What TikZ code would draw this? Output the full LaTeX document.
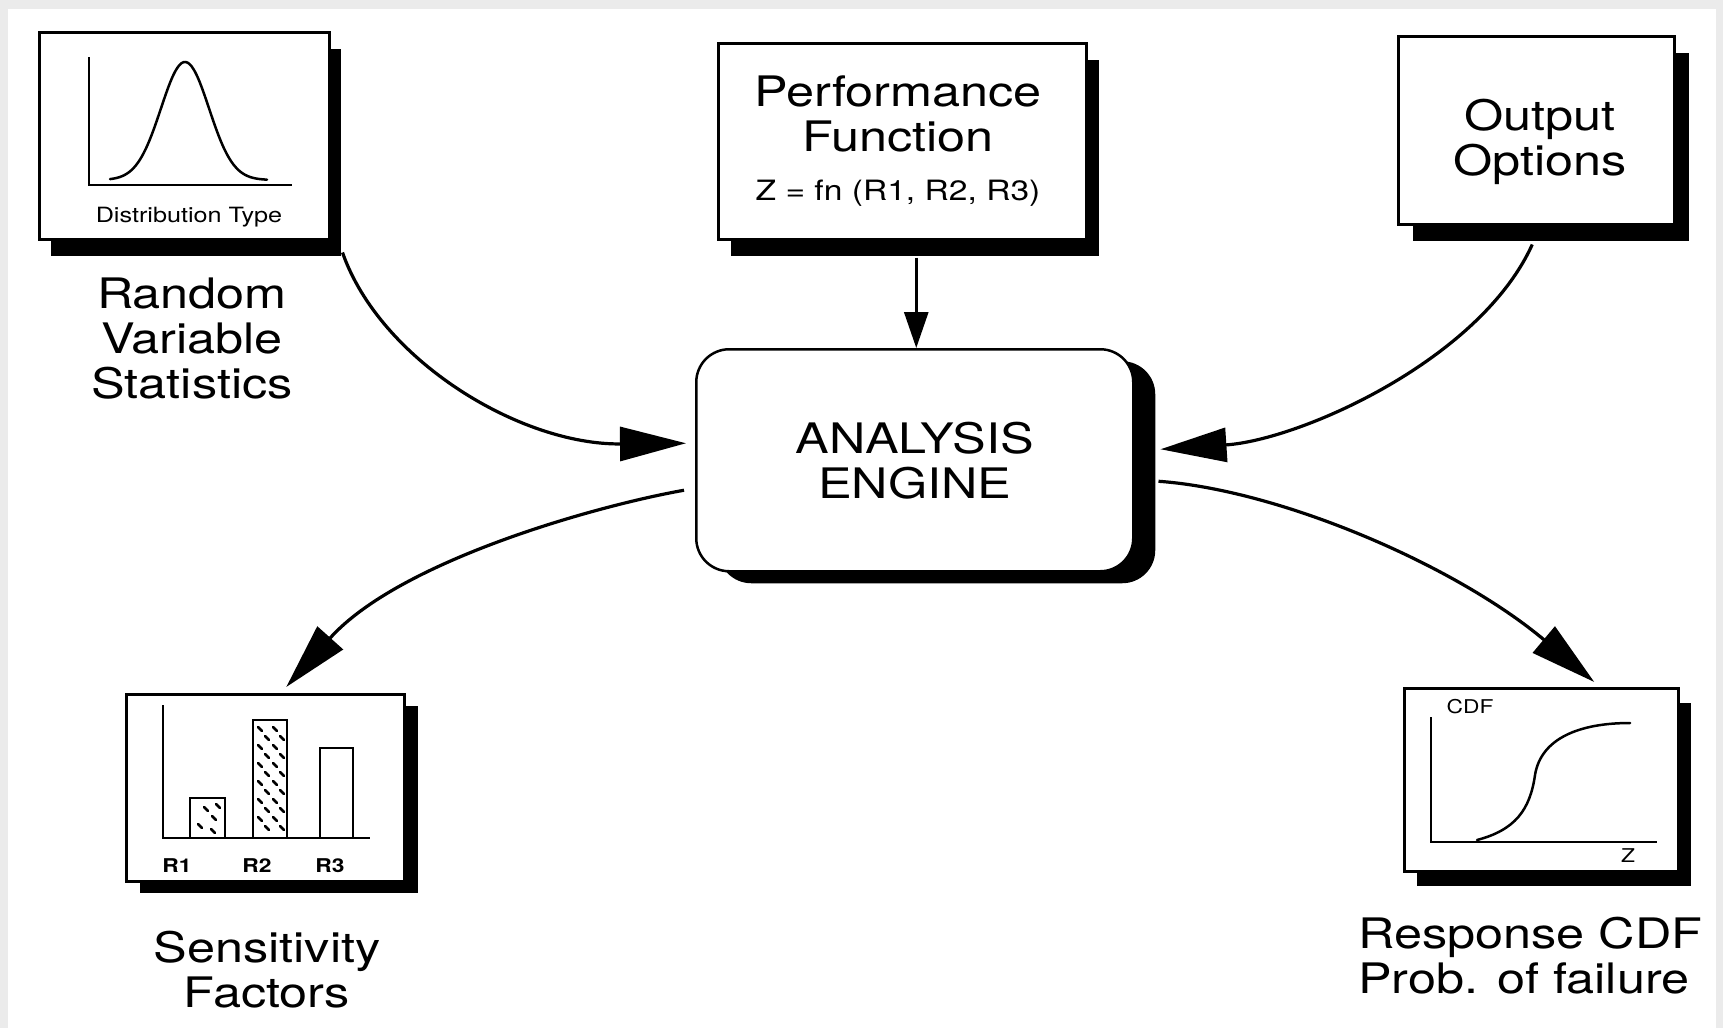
\documentclass[tikz,border=0pt]{standalone}
\usepackage{fontspec}
\setmainfont{TeX Gyre Heros}[FakeStretch=1.2]
\usetikzlibrary{arrows.meta,calc,shadows}

\tikzset{
  panel/.style={draw, line width=2.5pt, fill=white, inner sep=0pt, anchor=north west},
  boxshadow/.style 2 args={drop shadow={shadow xshift=#1, shadow yshift=#2, opacity=1, fill=black}},
  bigtxt/.style={font=\fontsize{42}{45}\selectfont, align=center, inner sep=0pt},
  smalltxt/.style={font=\fontsize{21}{24}\selectfont, inner sep=0pt, anchor=base},
  tinytxt/.style={font=\bfseries\fontsize{19}{22}\selectfont, inner sep=0pt, anchor=base},
  axis/.style={line width=2.6pt},
  graph/.style={line width=2.5pt, line cap=round},
  speck/.style={line width=2.6pt, line cap=round},
  flow/.style={line width=3.2pt, -{Triangle[length=66pt,width=34pt]}},
  stub/.style={line width=2.8pt, -{Triangle[length=36pt,width=24pt]}}
}

\begin{document}
\begin{tikzpicture}[x=1pt, y=-1pt]
  % page and scanner edge tint
  \useasboundingbox (0,0) rectangle (1723,1028);
  \fill[white] (0,0) rectangle (1723,1028);
  \fill[black!8] (0,0) rectangle (1723,9);
  \fill[black!8] (0,0) rectangle (8,1028);
  \fill[black!8] (1716,0) rectangle (1723,1028);

  % boxes
  \node[panel, boxshadow={12pt}{-17pt}, minimum width=290pt, minimum height=207pt] (dist) at (38,31) {};
  \node[panel, boxshadow={13pt}{-17pt}, minimum width=368pt, minimum height=196pt] (perf) at (717,42) {};
  \node[panel, boxshadow={15pt}{-17pt}, minimum width=276pt, minimum height=188pt] (out) at (1397,35) {};
  \node[panel, boxshadow={22pt}{-12pt}, rounded corners=33pt, minimum width=437pt, minimum height=222pt,
        font=\fontsize{42}{45}\selectfont, align=center] (engine) at (695,348) {ANALYSIS\\ENGINE};
  \node[panel, boxshadow={14pt}{-12pt}, minimum width=278pt, minimum height=187pt] (sens) at (125,693) {};
  \node[panel, boxshadow={13pt}{-15pt}, minimum width=274pt, minimum height=183pt] (cdf) at (1403,687) {};

  % texts of the input boxes
  \node[bigtxt] (perftxt) at (898,141) {Performance\\Function\\[4pt]{\fontsize{28}{30}\selectfont Z = fn (R1, R2, R3)}};
  \node[bigtxt] (outtxt) at (1540,142) {Output\\Options};

  % distribution sketch
  \draw[axis] (89,57) -- (89,185) -- (292,185);
  \draw[graph] plot[domain=110:267, samples=80, smooth] (\x, {180-118*exp(-((\x-185)/34)^2)});
  \node[smalltxt] (disttxt) at (189,222) {Distribution Type};

  % sensitivity bars
  \draw[axis] (163,705) -- (163,838) -- (370,838);
  \draw[line width=2.4pt] (190,838) rectangle (225,798);
  \draw[line width=2.4pt] (253,838) rectangle (287,720);
  \draw[line width=2.4pt] (320,838) rectangle (353,748);
  \foreach \px/\py in {206/809, 214/818, 200/826, 213/831, 218/806}
    \draw[speck] (\px-2,\py-2) -- (\px+2,\py+2);
  \foreach \row in {0,...,11} {
    \pgfmathsetmacro{\yy}{729+9*\row}
    \pgfmathsetmacro{\sh}{mod(\row,2)*7}
    \draw[speck] (260+\sh-2,\yy-2) -- (260+\sh+2,\yy+2);
    \draw[speck] (275+\sh-2,\yy-2) -- (275+\sh+2,\yy+2);
  }
  \node[tinytxt] (r1) at (177,872) {R1};
  \node[tinytxt] (r2) at (257,872) {R2};
  \node[tinytxt] (r3) at (330,872) {R3};

  % response CDF sketch
  \draw[axis] (1431,717) -- (1431,842) -- (1657,842);
  \draw[graph] (1477,840) .. controls (1515,830) and (1530,810) .. (1535,775)
               .. controls (1541,738) and (1580,723) .. (1630,723);
  \node[tinytxt, font=\fontsize{19}{22}\selectfont] (cdftxt) at (1470,713) {CDF};
  \node[tinytxt, font=\fontsize{19}{22}\selectfont] (ztxt) at (1628,862) {Z};

  % captions
  \node[bigtxt] (rvs) at (192,339) {Random\\Variable\\Statistics};
  \node[bigtxt] (sf) at (267,970) {Sensitivity\\Factors};
  \node[bigtxt, align=left, anchor=west] (resp) at (1358,956) {Response CDF\\Prob. of failure};

  % connectors
  \draw[flow] ($(dist.south east)+(12,12)$) .. controls (380,360) and (520,445) .. ($(engine.west)+(-9,-17)$);
  \draw[stub] ($(perf.south)+(14,17)$) -- ($(engine.north)+(1.5,0)$);
  \draw[flow] ($(out.south)+(-4,19)$) .. controls (1480,360) and (1300,440) .. ($(engine.east)+(26,-11)$);
  \draw[flow] ($(engine.west)+(-11,30)$) .. controls (600,505) and (400,560) .. ($(sens.north)+(21,-6)$);
  \draw[flow] ($(engine.east)+(24,21)$) .. controls (1280,490) and (1455,565) .. ($(cdf.north)+(53,-5)$);
\end{tikzpicture}
\end{document}
